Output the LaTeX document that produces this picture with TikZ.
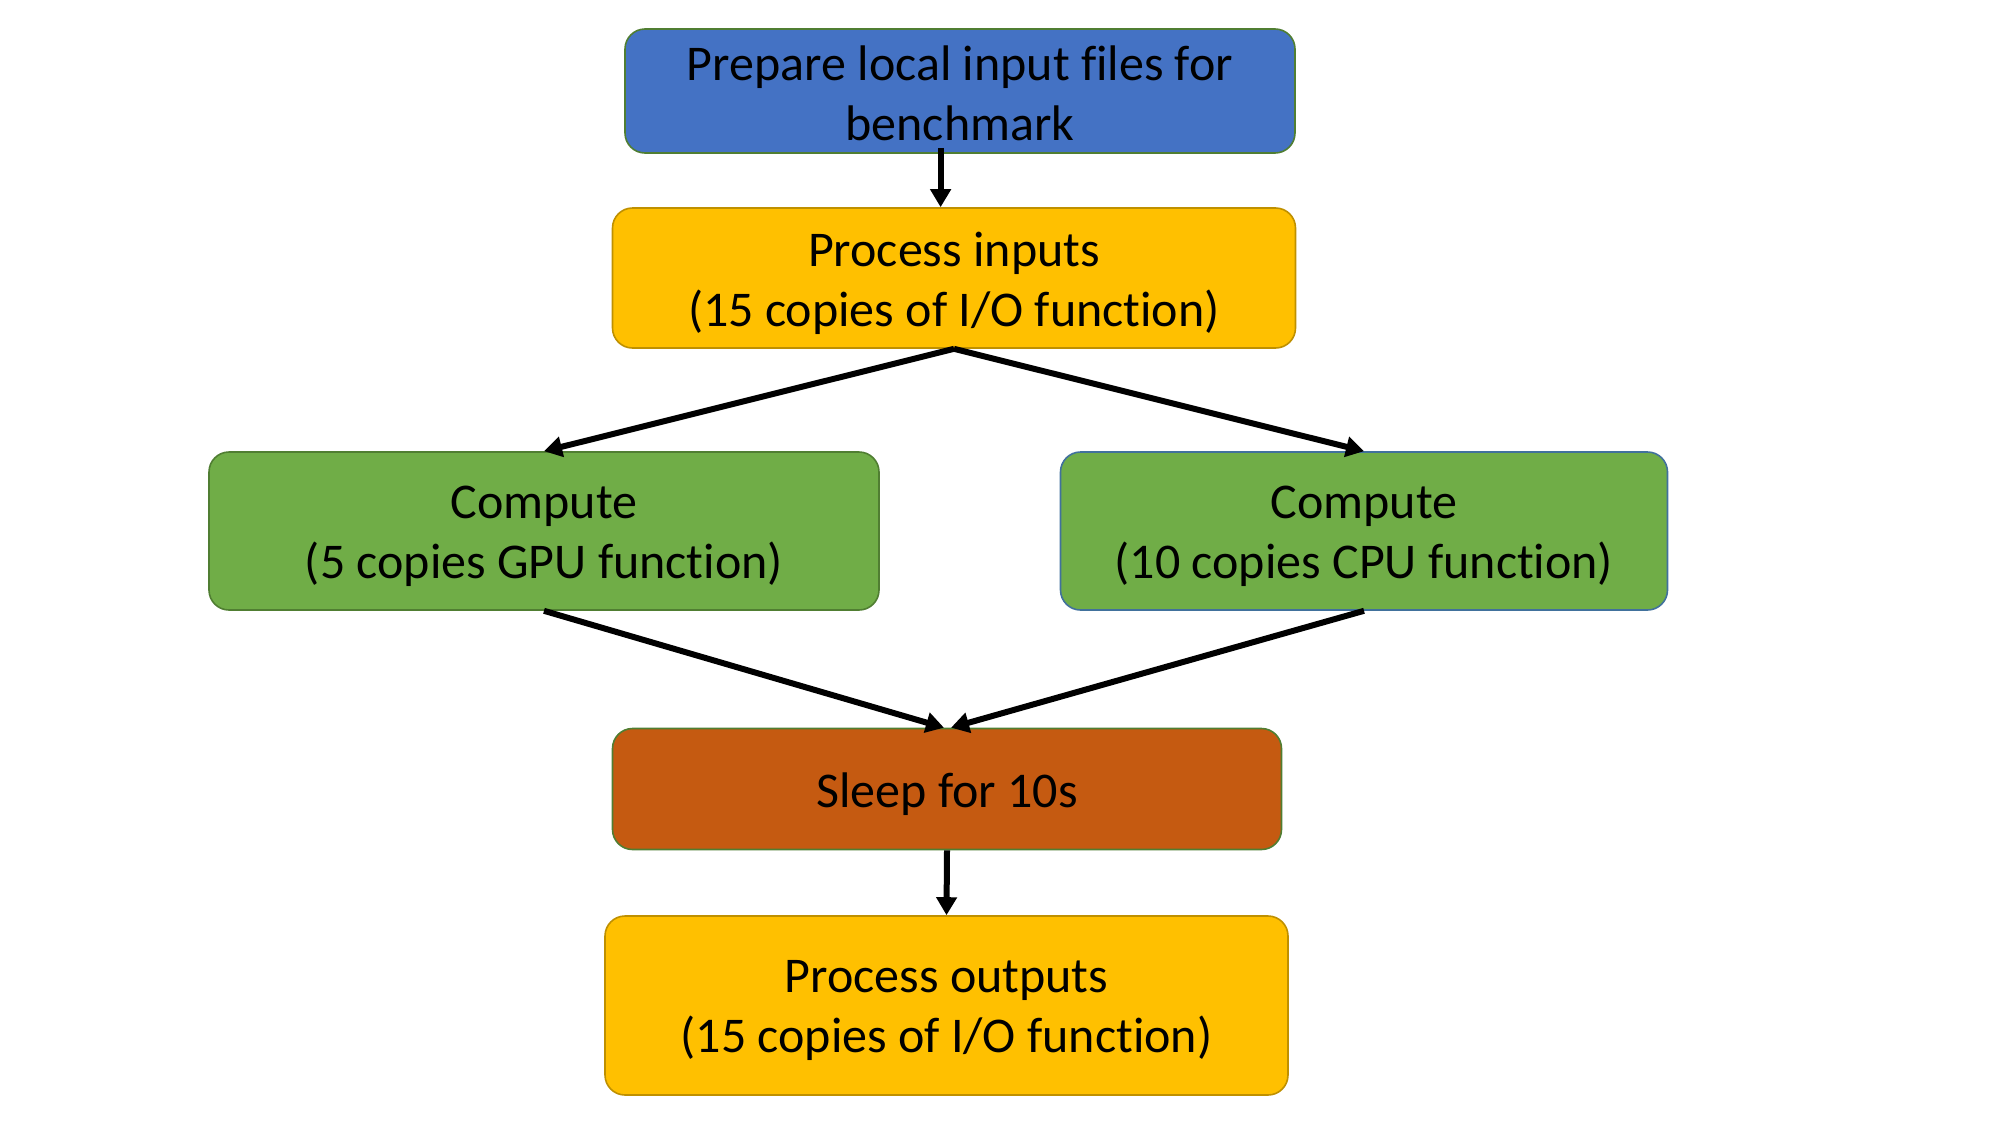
\documentclass[tikz,border=0pt]{standalone}
\usepackage{fontspec}
\setmainfont[Ligatures=NoCommon]{Carlito}
\usetikzlibrary{arrows.meta}
\definecolor{cblue}{HTML}{4472C4}
\definecolor{cyellow}{HTML}{FFC000}
\definecolor{cgreen}{HTML}{70AD47}
\definecolor{corange}{HTML}{C55A11}
\definecolor{bgreen}{HTML}{507E32}
\definecolor{bgold}{HTML}{BF9000}
\definecolor{bblue}{HTML}{41719C}
\tikzset{
  box/.style={rectangle, rounded corners=10pt, line width=0.8pt, inner sep=0pt},
  lbl/.style={align=center, inner sep=0pt, yshift=-2.5pt, text=black,
    font=\fontsize{25}{30}\selectfont},
  lblhi/.style={align=center, inner sep=0pt, yshift=-1pt, text=black,
    font=\fontsize{25}{30}\selectfont},
  conn/.style={line width=3pt, -{Triangle[length=9pt,width=10pt]}}
}
\begin{document}
\begin{tikzpicture}[x=0.5pt,y=-0.5pt]
\useasboundingbox (0,0) rectangle (2001,1125);
\node[box, fill=cblue, draw=bgreen, minimum width=335pt, minimum height=62pt,
  label={[lblhi]center:Prepare local input files for\\benchmark}] (n1) at (960,91) {};
\node[box, fill=cyellow, draw=bgold, minimum width=341.5pt, minimum height=70pt,
  label={[lbl]center:Process inputs\\(15 copies of I/O function)}] (n2) at (954,278) {};
\node[box, fill=cgreen, draw=bgreen, minimum width=335pt, minimum height=79pt,
  label={[lbl]center:Compute\\(5 copies GPU function)}] (n3) at (544,531) {};
\node[box, fill=cgreen, draw=bblue, minimum width=303.5pt, minimum height=79pt,
  label={[lbl]center:Compute\\(10 copies CPU function)}] (n4) at (1364,531) {};
\node[box, fill=corange, draw=bgreen, minimum width=334.5pt, minimum height=60.5pt,
  label={[lbl]center:Sleep for 10s}] (n5) at (947,789) {};
\node[box, fill=cyellow, draw=bgold, minimum width=341.5pt, minimum height=89.5pt,
  label={[lbl]center:Process outputs\\(15 copies of I/O function)}] (n6) at (946.5,1005.5) {};
\draw[conn] ([xshift=-9.7pt,yshift=3pt]n1.south) -- ([xshift=-6.7pt]n2.north);
\draw[conn] (n2.south) -- (n3.north);
\draw[conn] (n2.south) -- (n4.north);
\draw[conn] (n3.south) -- ([xshift=-1.5pt]n5.north);
\draw[conn] (n4.south) -- ([xshift=2pt]n5.north);
\draw[conn] (n5.south) -- (n6.north);
\end{tikzpicture}
\end{document}
